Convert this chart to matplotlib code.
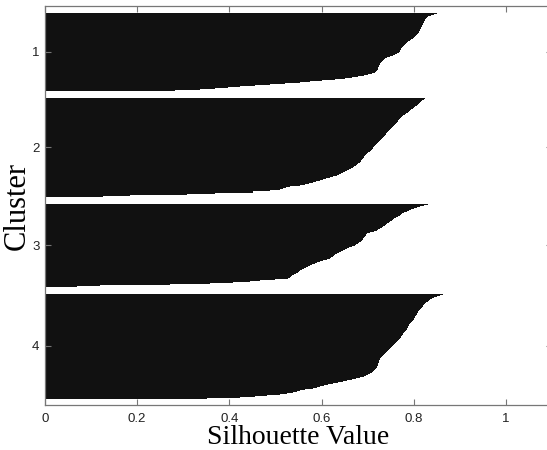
import matplotlib
matplotlib.use("Agg")
import matplotlib.pyplot as plt
import numpy as np

# silhouette values per cluster, sorted descending
sil_1 = [0.850, 0.844, 0.837, 0.831, 0.829, 0.826,
         0.824, 0.824, 0.822, 0.822,
         0.820, 0.820, 0.818, 0.818, 0.816,
         0.816, 0.813, 0.813, 0.811, 0.811,
         0.809, 0.807, 0.805, 0.803, 0.800,
         0.798, 0.794, 0.792, 0.787, 0.785,
         0.783, 0.781, 0.779, 0.777, 0.774,
         0.772, 0.772, 0.770, 0.770, 0.768,
         0.764, 0.759, 0.755, 0.748, 0.742,
         0.738, 0.735, 0.733, 0.731, 0.729,
         0.727, 0.727, 0.725, 0.725, 0.722,
         0.722, 0.722, 0.720, 0.718, 0.716,
         0.709, 0.701, 0.692, 0.679, 0.666,
         0.651, 0.629, 0.601, 0.575, 0.553,
         0.521, 0.488, 0.456, 0.423, 0.397,
         0.369, 0.336, 0.282]

sil_2 = [0.824, 0.822, 0.818, 0.816, 0.813, 0.811,
         0.809, 0.807, 0.803, 0.800, 0.798, 0.794,
         0.792, 0.790, 0.787, 0.783, 0.781, 0.777,
         0.774, 0.772, 0.770, 0.768, 0.766, 0.766,
         0.764, 0.761, 0.759, 0.757, 0.755, 0.753, 0.751,
         0.748, 0.746, 0.744, 0.742, 0.740, 0.740,
         0.738, 0.735, 0.733, 0.731, 0.729, 0.727, 0.725,
         0.722, 0.720, 0.718, 0.716, 0.714, 0.711, 0.711,
         0.709, 0.707, 0.705, 0.701, 0.698, 0.696,
         0.694, 0.692, 0.692, 0.690, 0.688, 0.685, 0.685,
         0.683, 0.679, 0.677, 0.675, 0.670,
         0.668, 0.664, 0.659, 0.655,
         0.651, 0.646, 0.642, 0.638,
         0.633, 0.625, 0.618, 0.610,
         0.603, 0.597, 0.588, 0.581, 0.573,
         0.564, 0.553, 0.531, 0.523, 0.516, 0.510, 0.488,
         0.451, 0.451, 0.369, 0.308, 0.184, 0.126]

sil_3 = [0.831, 0.822, 0.813, 0.807, 0.800,
         0.794, 0.790, 0.785, 0.779, 0.774,
         0.772, 0.770, 0.766, 0.761, 0.757,
         0.755, 0.753, 0.748, 0.746, 0.742,
         0.740, 0.738, 0.733, 0.731, 0.727,
         0.722, 0.720, 0.714, 0.705, 0.698,
         0.696, 0.696, 0.694, 0.692, 0.690, 0.690,
         0.688, 0.685, 0.681, 0.679, 0.675,
         0.672, 0.666, 0.659, 0.655, 0.651,
         0.646, 0.642, 0.638, 0.633, 0.629,
         0.627, 0.625, 0.620, 0.618, 0.612,
         0.603, 0.597, 0.590, 0.586, 0.579,
         0.575, 0.570, 0.566, 0.562, 0.557,
         0.553, 0.551, 0.549, 0.544, 0.540,
         0.536, 0.534, 0.531, 0.527, 0.499,
         0.466, 0.445, 0.408, 0.358, 0.271, 0.119, 0.069]

sil_4 = [0.863, 0.857, 0.850, 0.844, 0.839,
         0.835, 0.833, 0.831, 0.826, 0.824,
         0.822, 0.820, 0.820, 0.818, 0.816,
         0.813, 0.811, 0.809, 0.809, 0.807,
         0.807, 0.805, 0.803, 0.803, 0.800,
         0.800, 0.798, 0.796, 0.794, 0.792,
         0.790, 0.790, 0.787, 0.787, 0.785,
         0.785, 0.783, 0.781, 0.779, 0.777,
         0.777, 0.774, 0.772, 0.772, 0.770,
         0.768, 0.766, 0.764, 0.761, 0.759,
         0.757, 0.755, 0.753, 0.751, 0.748,
         0.746, 0.744, 0.742, 0.740, 0.738,
         0.735, 0.733, 0.731, 0.729, 0.727,
         0.727, 0.725, 0.725, 0.725, 0.722,
         0.722, 0.722, 0.720, 0.720, 0.718,
         0.716, 0.714, 0.711, 0.709, 0.705,
         0.701, 0.696, 0.692, 0.683, 0.675,
         0.666, 0.655, 0.646, 0.636, 0.625,
         0.614, 0.605, 0.597, 0.590, 0.581,
         0.564, 0.553, 0.547, 0.538, 0.525,
         0.510, 0.482, 0.456, 0.423, 0.351]

clusters = [sil_1, sil_2, sil_3, sil_4]
cluster_names = ["1", "2", "3", "4"]
x_ticks = [0, 0.2, 0.4, 0.6, 0.8, 1]
x_tick_labels = ["0", "0.2", "0.4", "0.6", "0.8", "1"]

# stack clusters like matlab's silhouette(): NaN gaps between groups
n = sum(len(c) for c in clusters)
space = max(int(np.floor(0.02 * n)), 2)
bars = [np.nan] * space
tcks = []
for c in clusters:
    start = len(bars) + 1
    bars += sorted(c, reverse=True)
    tcks.append((start + len(bars)) / 2.0)
    bars += [np.nan] * space
bars = np.array(bars)
ypos = np.arange(1, len(bars) + 1)

fig = plt.figure(figsize=(5.47, 4.5), dpi=100)
ax = fig.add_axes([45 / 547, 45 / 450, 507 / 547, 399 / 450])

ok = ~np.isnan(bars)
ax.barh(ypos[ok], bars[ok], height=1.0, color="#111111", linewidth=0)

ax.set_xlim(0, 1.1)
ax.set_ylim(len(bars), 1)
ax.set_xticks(x_ticks)
ax.set_xticklabels(x_tick_labels)
ax.set_yticks(tcks)
ax.set_yticklabels(cluster_names)

for s in ax.spines.values():
    s.set_color("#777777")
    s.set_linewidth(0.9)
ax.tick_params(direction="in", length=4, color="#777777", width=0.8,
               top=True, right=True, labelsize=9.5, labelcolor="#222222")
ax.tick_params(axis="x", pad=6)
ax.tick_params(axis="y", pad=4)
for lab in ax.get_xticklabels() + ax.get_yticklabels():
    lab.set_family("Liberation Sans")

ax.set_xlabel("Silhouette Value", family="Liberation Serif", fontsize=20, labelpad=0)
ax.set_ylabel("Cluster", family="Liberation Serif", fontsize=22, labelpad=0)

fig.savefig("out.png", dpi=100)
